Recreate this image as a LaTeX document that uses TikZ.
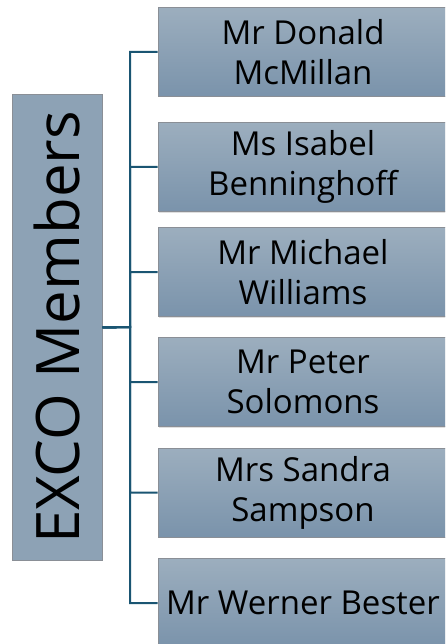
\documentclass[tikz,border=0pt]{standalone}
\usepackage{fontspec}
\setmainfont{Open Sans}
\usepackage{tikz}
\usetikzlibrary{shadows}
\usetikzlibrary{calc}
\definecolor{boxtop}{HTML}{9CAEBE}
\definecolor{boxbottom}{HTML}{7A93AB}
\definecolor{boxline}{HTML}{8A8F96}
\definecolor{linkcol}{HTML}{1A5572}
\tikzstyle{member}=[rectangle,draw=boxline,line width=1pt,top color=boxtop,bottom color=boxbottom,minimum width=290pt,minimum height=89pt,inner sep=0pt,align=center,font=\fontsize{33}{40}\selectfont,drop shadow={opacity=0.25,shadow xshift=1pt,shadow yshift=-1pt}]
\tikzstyle{lead}=[rectangle,draw=boxline,line width=1pt,fill=boxtop!55!boxbottom,minimum width=90pt,minimum height=465pt,inner sep=0pt,font=\fontsize{60}{66}\selectfont]
\tikzstyle{edge} = [draw,line width=2pt,linkcol]

\begin{document}
\begin{tikzpicture}[x=1pt,y=-1pt]

    \useasboundingbox (0,0) rectangle (445,644);
    \clip (0,0) rectangle (445,644);

    \node[lead] (exco) at (57,327.5) {\rotatebox{90}{EXCO Members}};
    \coordinate (spine) at (130,327);

     \foreach \y/\name/\who in {52/donald/{Mr Donald\\McMillan}, 167/isabel/{Ms Isabel\\Benninghoff}, 272/michael/{Mr Michael\\Williams}, 382/peter/{Mr Peter\\Solomons}, 492.5/sandra/{Mrs Sandra\\Sampson}, 603/werner/{Mr Werner Bester}}
        \node[member] (\name) at (303,\y) {\who};

    \foreach \dest in {donald,isabel,michael,peter,sandra,werner}
        \path[edge] (exco.east) -- (spine) |- (\dest.west);

\end{tikzpicture}
\end{document}
